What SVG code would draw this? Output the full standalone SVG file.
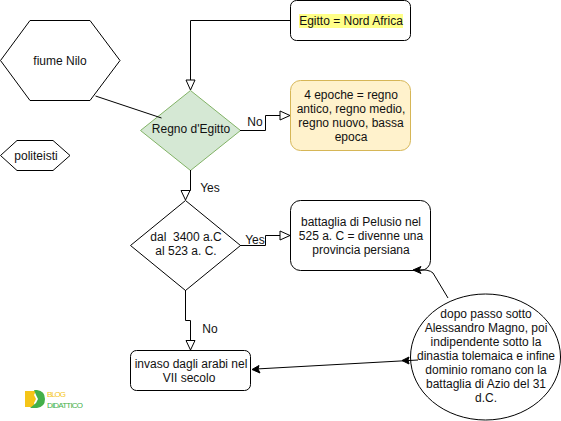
<svg xmlns="http://www.w3.org/2000/svg" width="561" height="421" viewBox="0 0 561 421">
<style>
text{font-family:"Liberation Sans",Arial,sans-serif;font-size:12px;fill:#111;text-anchor:middle;white-space:pre}
.n{fill:#fff;stroke:#000;stroke-width:1}
.c{fill:none;stroke:#000;stroke-width:1}
.h{fill:#fff;stroke:#000;stroke-width:1}
.f{fill:#000;stroke:#000;stroke-width:1}
.logo{font-size:8px;text-anchor:start}
</style>
<rect width="561" height="421" fill="#fff"/>
<g id="fiume-nilo"><path class="n" d="M0.500 60.500L30 20.500H90L120 60.500L90 100.500H30Z"/><text x="60" y="65">fiume Nilo</text></g>
<g id="politeisti"><path class="n" d="M0.500 155.500L17 140.500H53L70 155.500L53 170.500H17Z"/><text x="36" y="160">politeisti</text></g>
<g id="regno"><path d="M190.500 90.500L140.500 130.500L190.500 170.500L240.500 130.500Z" fill="#d5e8d4" stroke="#82b366"/><text x="191" y="133">Regno d'Egitto</text></g>
<g id="egitto"><rect class="n" x="290.500" y="0.500" width="120" height="40" rx="6"/><rect x="299" y="14" width="104" height="14" fill="#ffff88"/><text x="351" y="25">Egitto = Nord Africa</text></g>
<g id="epoche"><rect x="290.500" y="80.500" width="120" height="70" rx="10" fill="#fff2cc" stroke="#d6b656"/><text x="351" y="99">4 epoche = regno</text><text x="351" y="113">antico, regno medio,</text><text x="351" y="127">regno nuovo, bassa</text><text x="351" y="141">epoca</text></g>
<g id="dal"><path class="n" d="M185.500 200.500L130.500 245.500L185.500 290.500L240.500 245.500Z"/><text x="186" y="241">dal  3400 a.C</text><text x="186" y="255">al 523 a. C.</text></g>
<g id="battaglia"><rect class="n" x="290.500" y="200.500" width="140" height="70" rx="10"/><text x="361" y="226">battaglia di Pelusio nel</text><text x="361" y="240">525 a. C = divenne una</text><text x="361" y="254">provincia persiana</text></g>
<g id="invaso"><rect class="n" x="130.500" y="350.500" width="120" height="40" rx="6"/><text x="191" y="368">invaso dagli arabi nel</text><text x="189" y="382">VII secolo</text></g>
<g id="dopo"><ellipse class="n" cx="485.500" cy="357" rx="75" ry="63"/><text x="486" y="318">dopo passo sotto</text><text x="486" y="332">Alessandro Magno, poi</text><text x="486" y="346">indipendente sotto la</text><text x="486" y="360">dinastia tolemaica e infine</text><text x="486" y="374">dominio romano con la</text><text x="486" y="388">battaglia di Azio del 31</text><text x="486" y="402">d.C.</text></g>
<g id="connectors">
<path class="c" d="M290 20.500H190.500V80"/>
<path class="h" d="M190.500 90L186 80H195Z"/>
<path class="c" d="M95.500 96L161.500 118"/>
<path class="c" d="M240 130.500H265.500V115.500H280"/>
<path class="h" d="M290 115.500L280 111V120Z"/>
<path class="c" d="M190.500 170V190.500H185.500"/>
<path class="h" d="M185.500 200L181 190.500H190Z"/>
<path class="c" d="M240 245.500H265.500V235.500H280"/>
<path class="h" d="M290 235.500L280 231V240Z"/>
<path class="c" d="M185.500 290V320.500H190.500V340"/>
<path class="h" d="M190.500 350L186 340.500H195Z"/>
<path class="c" stroke-linejoin="round" d="M448 298L433 273Q429 269 417 270"/>
<path class="f" d="M413 270L421 266.500L419 270L421 273.500Z"/>
<path class="c" d="M418 360L256 369"/>
<path class="f" d="M252 369.500L259 365.500L258 369L260 373Z"/>
<path class="f" d="M402 360.500L409 357L408 360L409 364Z"/>
</g>
<g id="labels">
<text x="255" y="126">No</text><text x="210" y="192">Yes</text><text x="255" y="244">Yes</text><text x="210" y="333">No</text>
</g>
<g id="logo">
<path d="M25 391H36L34 395L36 399L34 403L35 407H25Z" fill="#f5c518"/>
<path d="M34 390H37Q45 391 45 399Q45 407 37 408H30L36 403L38 399L36 395Z" fill="#43b04a"/>
<text class="logo" x="47" y="397" style="fill:#f5c518" textLength="19">BLOG</text>
<text class="logo" x="47" y="408" style="fill:#43b04a" textLength="36">DIDATTICO</text>
</g>
</svg>
